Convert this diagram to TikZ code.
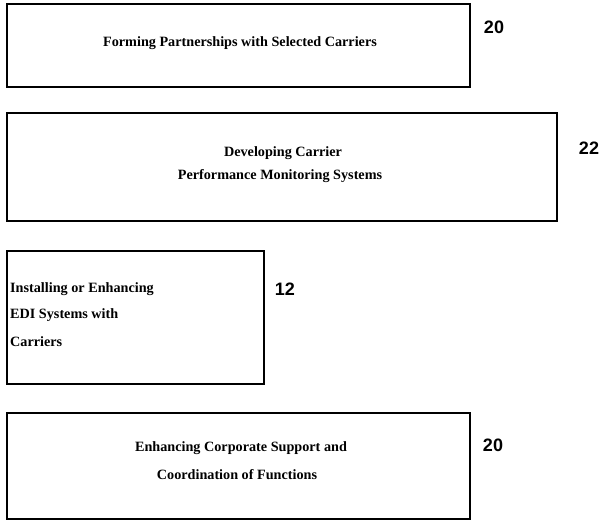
\documentclass[tikz,border=0pt]{standalone}
\usepackage{fontspec}
\setmainfont{Liberation Serif}
\newfontfamily\numfont{Liberation Sans}
\tikzset{
  label/.style={font=\bfseries\fontsize{14.2}{16}\selectfont, inner sep=0pt},
  refnum/.style={font=\numfont\bfseries\fontsize{18}{20}\selectfont, inner sep=0pt}
}
\begin{document}
\begin{tikzpicture}[x=1pt,y=-1pt]
\useasboundingbox (0,0) rectangle (603,521);

\draw[line width=1.6pt] (7,4) rectangle (470,87);
\node[label] (partners) at (240,43) {Forming Partnerships with Selected Carriers};
\node[refnum] (n20a) at (494,27) {20};

\draw[line width=1.6pt] (7,113) rectangle (557,221);
\node[label] (perf1) at (283,153) {Developing Carrier};
\node[label] (perf2) at (280,176) {Performance Monitoring Systems};
\node[refnum] (n22) at (589,148) {22};

\draw[line width=1.6pt] (7,251) rectangle (264,384);
\node[label,anchor=west] (edi1) at (10,289) {Installing or Enhancing};
\node[label,anchor=west] (edi2) at (10,315) {EDI Systems with};
\node[label,anchor=west] (edi3) at (10,342) {Carriers};
\node[refnum] (n12) at (285,289) {12};

\draw[line width=1.6pt] (7,413) rectangle (470,519);
\node[label] (corp1) at (241,448) {Enhancing Corporate Support and};
\node[label] (corp2) at (237,475) {Coordination of Functions};
\node[refnum] (n20b) at (493,445) {20};
\end{tikzpicture}
\end{document}
